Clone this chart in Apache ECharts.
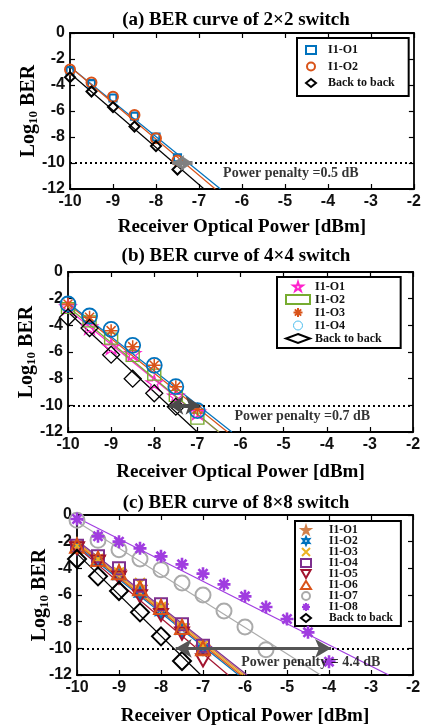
<!DOCTYPE html>
<html>
<head>
<meta charset="utf-8">
<script src="https://cdn.jsdelivr.net/npm/echarts@6/dist/echarts.min.js"></script>
<style>
  html, body { margin: 0; padding: 0; background: #fff; }
  #chart { width: 424px; height: 727px; }
</style>
</head>
<body>
<div id="chart"></div>
<script>
var SERIF = '"Liberation Serif", "Times New Roman", serif';
var SANS = '"Liberation Sans", Arial, sans-serif';

// ---- (a) 2x2 switch ----
var powerA = [-10, -9.5, -9, -8.5, -8, -7.5];
var berA_O1 = [-2.9, -3.9, -5.0, -6.4, -8.0, -9.6];
var berA_O2 = [-2.8, -3.8, -4.9, -6.3, -8.1, -9.8];
var berA_B2B = [-3.4, -4.5, -5.7, -7.2, -8.7, -10.5];
// fitted lines: [power at start, power at end], [ber at start, ber at end]
var fitA_O1 = [[-10, -6.5], [-2.6, -12]];
var fitA_O2 = [[-10, -6.62], [-2.6, -12]];
var fitA_B2B = [[-10, -6.88], [-3.1, -12]];
var arrowA = [-7.62, -7.15];

// ---- (b) 4x4 switch ----
var powerB = [-10, -9.5, -9, -8.5, -8, -7.5, -7];
var berB_O1 = [-2.6, -4.1, -5.6, -6.1, -8.3, -9.3, -10.5];
var berB_O2 = [-2.7, -3.7, -5.0, -6.3, -7.7, -9.3, -11.0];
var berB_O3 = [-2.4, -3.4, -4.4, -5.6, -7.0, -8.6, -10.3];
var berB_O4 = [-2.4, -3.3, -4.3, -5.5, -7.0, -8.6, -10.4];
var powerB_B2B = [-10, -9.5, -9, -8.5, -8, -7.5];
var berB_B2B = [-3.4, -4.2, -6.2, -8.0, -9.1, -10.1];
var fitB_O1 = [[-10, -6.5], [-2.8, -12]];
var fitB_O2 = [[-10, -6.5], [-2.6, -12]];
var fitB_O3 = [[-10, -6.3], [-2.4, -12]];
var fitB_O4 = [[-10, -6.2], [-2.3, -12]];
var fitB_B2B = [[-10, -7.0], [-3.0, -12]];
var arrowB = [-7.65, -6.95];

// ---- (c) 8x8 switch ----
var powerC = [-10, -9.5, -9, -8.5, -8, -7.5, -7];
var berC_O1 = [-2.2, -3.2, -4.2, -5.4, -6.8, -8.3, -9.9];
var berC_O2 = [-2.5, -3.5, -4.6, -5.9, -7.3, -8.7, -10.0];
var berC_O3 = [-2.3, -3.3, -4.3, -5.1, -6.9, -8.5, -9.8];
var berC_O4 = [-2.3, -3.1, -4.0, -5.3, -6.7, -8.2, -9.8];
var berC_O5 = [-2.5, -3.5, -4.7, -6.1, -7.5, -8.9, -10.9];
var berC_O6 = [-2.3, -3.3, -4.3, -5.5, -6.9, -8.4, -10.0];
var powerC_O7 = [-10, -9.5, -9, -8.5, -8, -7.5, -7, -6.5, -6, -5.5];
var berC_O7 = [-0.4, -1.9, -2.6, -3.3, -4.1, -5.1, -6.0, -7.2, -8.4, -10.1];
var powerC_O8 = [-10, -9.5, -9, -8.5, -8, -7.5, -7, -6.5, -6, -5.5, -5, -4.5, -4];
var berC_O8 = [-0.3, -1.6, -2.0, -2.5, -3.1, -3.7, -4.4, -5.2, -6.1, -6.9, -7.8, -8.8, -11.0];
var powerC_B2B = [-10, -9.5, -9, -8.5, -8, -7.5];
var berC_B2B = [-3.3, -4.6, -5.7, -7.3, -9.1, -10.95];
var fitC_O1 = [[-10, -6.0], [-2.0, -12]];
var fitC_O2 = [[-10, -6.15], [-2.3, -12]];
var fitC_O3 = [[-10, -6.05], [-2.1, -12]];
var fitC_O4 = [[-10, -5.95], [-1.9, -12]];
var fitC_O5 = [[-10, -6.4], [-2.4, -12]];
var fitC_O6 = [[-10, -6.1], [-2.2, -12]];
var fitC_O7 = [[-10, -4.2], [-0.5, -12]];
var fitC_O8 = [[-10, -2.58], [-0.2, -12]];
var fitC_B2B = [[-10, -7.05], [-2.9, -12]];
var arrowC = [-7.65, -3.95];

var thresholdBer = -10;
var penaltyText = ['Power penalty =0.5 dB', 'Power penalty =0.7 dB', 'Power penalty = 4.4 dB'];
var penaltyAt = [[-6.45, -10.8], [-6.15, -10.8], [-6.1, -11.05]];

var STAR = 'path://M50,0L61,35L98,35L68,57L79,91L50,70L21,91L32,57L2,35L39,35Z';
var HEXA = 'path://M50,0L62,29L93,25L75,50L93,75L62,71L50,100L38,71L7,75L25,50L7,25L38,29Z';
var ASTER = 'path://M50,0L50,100M0,50L100,50M15,15L85,85M85,15L15,85';
var CROSS = 'path://M0,0L100,100M100,0L0,100';
var TRI_DOWN = 'path://M0,0L100,0L50,87Z';

var titles = ['(a) BER curve of 2\u00d72 switch', '(b) BER curve of 4\u00d74 switch', '(c) BER curve of 8\u00d78 switch'];
var grids = [
  { left: 70, top: 33, width: 346, height: 156 },
  { left: 68, top: 272, width: 345, height: 160 },
  { left: 77, top: 515, width: 336, height: 164 }
];
var titleTops = [6, 242, 489];
var xNameGaps = [29, 31, 32];
var yNameGaps = [30, 30, 26];

function pairs(xs, ys) {
  return xs.map(function (x, i) { return [x, ys[i]]; });
}

function markers(p, name, xs, ys, symbol, size, color, filled, bw) {
  return {
    type: 'scatter', name: 'abc'[p] + ':' + name,
    xAxisIndex: 2 * p, yAxisIndex: 2 * p,
    data: pairs(xs, ys),
    symbol: symbol, symbolSize: size, symbolKeepAspect: true,
    itemStyle: {
      color: filled ? color : 'rgba(0,0,0,0)',
      borderColor: color, borderWidth: bw, opacity: 1
    },
    z: 4
  };
}

function fit(p, f, color) {
  return {
    type: 'line', name: 'fit', xAxisIndex: 2 * p, yAxisIndex: 2 * p,
    data: pairs(f[0], f[1]), symbol: 'none', silent: true,
    lineStyle: { color: color, width: 1.2 }, z: 3
  };
}

function annot(p, arrow, arrowColor, arrowWidth, arrowSize) {
  return [
    {
      type: 'line', name: 'thr', xAxisIndex: 2 * p, yAxisIndex: 2 * p, data: [],
      markLine: {
        silent: true, symbol: ['none', 'none'], label: { show: false },
        lineStyle: { color: '#000', type: [2, 3], width: 2 },
        data: [{ yAxis: thresholdBer }]
      }, z: 5
    },
    {
      type: 'line', name: 'arrow', xAxisIndex: 2 * p, yAxisIndex: 2 * p, data: [],
      markLine: {
        silent: true, symbol: ['arrow', 'arrow'], symbolSize: arrowSize, label: { show: false },
        lineStyle: { color: arrowColor, type: 'solid', width: arrowWidth },
        data: [[{ coord: [arrow[0], thresholdBer] }, { coord: [arrow[1], thresholdBer] }]]
      }, z: 6
    },
    {
      type: 'scatter', name: 'txt', xAxisIndex: 2 * p, yAxisIndex: 2 * p,
      data: [penaltyAt[p]], symbolSize: 1, itemStyle: { color: 'rgba(0,0,0,0)' }, silent: true,
      label: {
        show: true, position: 'right', distance: 0, formatter: penaltyText[p],
        fontFamily: SERIF, fontWeight: 'bold', fontSize: 14, color: '#000'
      }, z: 7
    }
  ];
}

var xAxes = [], yAxes = [], titleList = [];
grids.forEach(function (g, p) {
  var tick = { show: true, inside: true, length: 5, lineStyle: { color: '#000', width: 1.2 } };
  var line = { show: true, onZero: false, lineStyle: { color: '#000', width: 1.8 } };
  var lab = { fontFamily: SANS, fontWeight: 'bold', fontSize: 16, color: '#111', margin: 5 };
  xAxes.push({
    gridIndex: p, type: 'value', min: -10, max: -2, interval: 1,
    axisLine: line, axisTick: tick, splitLine: { show: false }, axisLabel: lab,
    name: 'Receiver Optical Power [dBm]', nameLocation: 'middle', nameGap: xNameGaps[p],
    nameTextStyle: { fontFamily: SERIF, fontWeight: 'bold', fontSize: 19, color: '#000' }
  });
  xAxes.push({
    gridIndex: p, type: 'value', position: 'top', min: -10, max: -2, interval: 1,
    axisLine: line, axisTick: tick, splitLine: { show: false }, axisLabel: { show: false }
  });
  yAxes.push({
    gridIndex: p, type: 'value', min: -12, max: 0, interval: 2,
    axisLine: line, axisTick: tick, splitLine: { show: false }, axisLabel: lab,
    name: '{a|Log}{b|10}{a| BER}', nameLocation: 'middle', nameGap: yNameGaps[p],
    nameMoveOverlap: false,
    nameTextStyle: {
      rich: {
        a: { fontFamily: SERIF, fontWeight: 'bold', fontSize: 20, color: '#000' },
        b: { fontFamily: SERIF, fontWeight: 'bold', fontSize: 13, color: '#000', padding: [9, 0, 0, 0] }
      }
    }
  });
  yAxes.push({
    gridIndex: p, type: 'value', position: 'right', min: -12, max: 0, interval: 2,
    axisLine: line, axisTick: tick, splitLine: { show: false }, axisLabel: { show: false }
  });
  titleList.push({
    text: titles[p], left: 231, top: titleTops[p], textAlign: 'center',
    textStyle: { fontFamily: SERIF, fontWeight: 'bold', fontSize: 19, color: '#000' }
  });
});

var BLUE = '#0072BD', ORANGE = '#D95319', BLACK = '#000000';
var MAGENTA = '#FF22CC', GREEN = '#77AC30';
var STARC = '#D2804A', YELLOW = '#EDB120', PURPLE = '#7E2F8E', RED = '#A2142F';
var GREY = '#AAAAAA', VIOLET = '#A03CE0';

var series = [
  fit(0, fitA_O1, BLUE), fit(0, fitA_O2, ORANGE), fit(0, fitA_B2B, BLACK),
  markers(0, 'I1-O1', powerA, berA_O1, 'rect', 7, BLUE, false, 2.2),
  markers(0, 'I1-O2', powerA, berA_O2, 'circle', 10, ORANGE, false, 2),
  markers(0, 'Back to back', powerA, berA_B2B, 'diamond', 10, BLACK, false, 2)
].concat(annot(0, arrowA, '#808080', 4, [12, 12]));

series = series.concat([
  fit(1, fitB_O1, MAGENTA), fit(1, fitB_O2, GREEN), fit(1, fitB_O3, ORANGE),
  fit(1, fitB_O4, BLUE), fit(1, fitB_B2B, BLACK),
  markers(1, 'I1-O1', powerB, berB_O1, STAR, 16, MAGENTA, false, 1.3),
  markers(1, 'I1-O2', powerB, berB_O2, 'rect', [13, 11], GREEN, false, 1.3),
  markers(1, 'I1-O3', powerB, berB_O3, ASTER, 13, ORANGE, false, 1.5),
  markers(1, 'I1-O4', powerB, berB_O4, 'circle', 15, BLUE, false, 1.8),
  markers(1, 'Back to back', powerB_B2B, berB_B2B, 'diamond', 17, BLACK, false, 1.3)
]).concat(annot(1, arrowB, '#4a4a4a', 4, [14, 14]));

series = series.concat([
  fit(2, fitC_O1, STARC), fit(2, fitC_O2, BLUE), fit(2, fitC_O3, YELLOW),
  fit(2, fitC_O4, PURPLE), fit(2, fitC_O5, RED), fit(2, fitC_O6, ORANGE),
  fit(2, fitC_O7, GREY), fit(2, fitC_O8, VIOLET), fit(2, fitC_B2B, BLACK),
  markers(2, 'I1-O1', powerC, berC_O1, STAR, 16, STARC, true, 1),
  markers(2, 'I1-O2', powerC, berC_O2, HEXA, 12, BLUE, false, 2),
  markers(2, 'I1-O3', powerC, berC_O3, CROSS, 10, YELLOW, false, 2),
  markers(2, 'I1-O4', powerC, berC_O4, 'rect', 12, PURPLE, false, 2),
  markers(2, 'I1-O5', powerC, berC_O5, TRI_DOWN, 14, RED, false, 2),
  markers(2, 'I1-O6', powerC, berC_O6, 'triangle', 14, ORANGE, false, 2),
  markers(2, 'I1-O7', powerC_O7, berC_O7, 'circle', 15, GREY, false, 2),
  markers(2, 'I1-O8', powerC_O8, berC_O8, ASTER, 13, VIOLET, false, 2.6),
  markers(2, 'Back to back', powerC_B2B, berC_B2B, 'diamond', 18, BLACK, false, 2)
]).concat(annot(2, arrowC, '#555555', 3, [14, 16]));

function legendNames(p) {
  return series.filter(function (s) { return s.type === 'scatter' && s.name.indexOf('abc'[p] + ':') === 0; })
    .map(function (s) {
      // MATLAB draws the I1-O4 ellipse of panel (b) in a thin light blue
      if (s.name === 'b:I1-O4') return { name: s.name, itemStyle: { borderColor: '#4DBEEE', borderWidth: 1 } };
      return { name: s.name };
    });
}

function legendBox(p, left, top, pad, iw, ih, fs, lh, gap, textPad) {
  return {
    orient: 'vertical', left: left, top: top, padding: pad,
    itemWidth: iw, itemHeight: ih, itemGap: gap,
    data: legendNames(p), selectedMode: false,
    borderColor: '#000', borderWidth: 2, backgroundColor: '#fff',
    formatter: function (n) { return n.slice(2); },
    textStyle: { fontFamily: SERIF, fontWeight: 'bold', fontSize: fs, color: '#111', lineHeight: lh, padding: [0, 0, 0, textPad] }
  };
}

var chart = echarts.init(document.getElementById('chart'), null, { renderer: 'canvas' });
chart.setOption({
  animation: false,
  backgroundColor: '#fff',
  title: titleList,
  grid: grids,
  xAxis: xAxes,
  yAxis: yAxes,
  legend: [
    legendBox(0, 297, 38, [5, 14, 6, 8], 10, 8, 12, 14, 2.5, 7),
    legendBox(1, 277, 277, [3, 19, 3, 8], 24, 9, 12, 13, 0, 0),
    legendBox(2, 295, 521, [3, 8, 2, 5], 10, 8, 11.5, 11, -1, 13)
  ],
  series: series
});
</script>
</body>
</html>
